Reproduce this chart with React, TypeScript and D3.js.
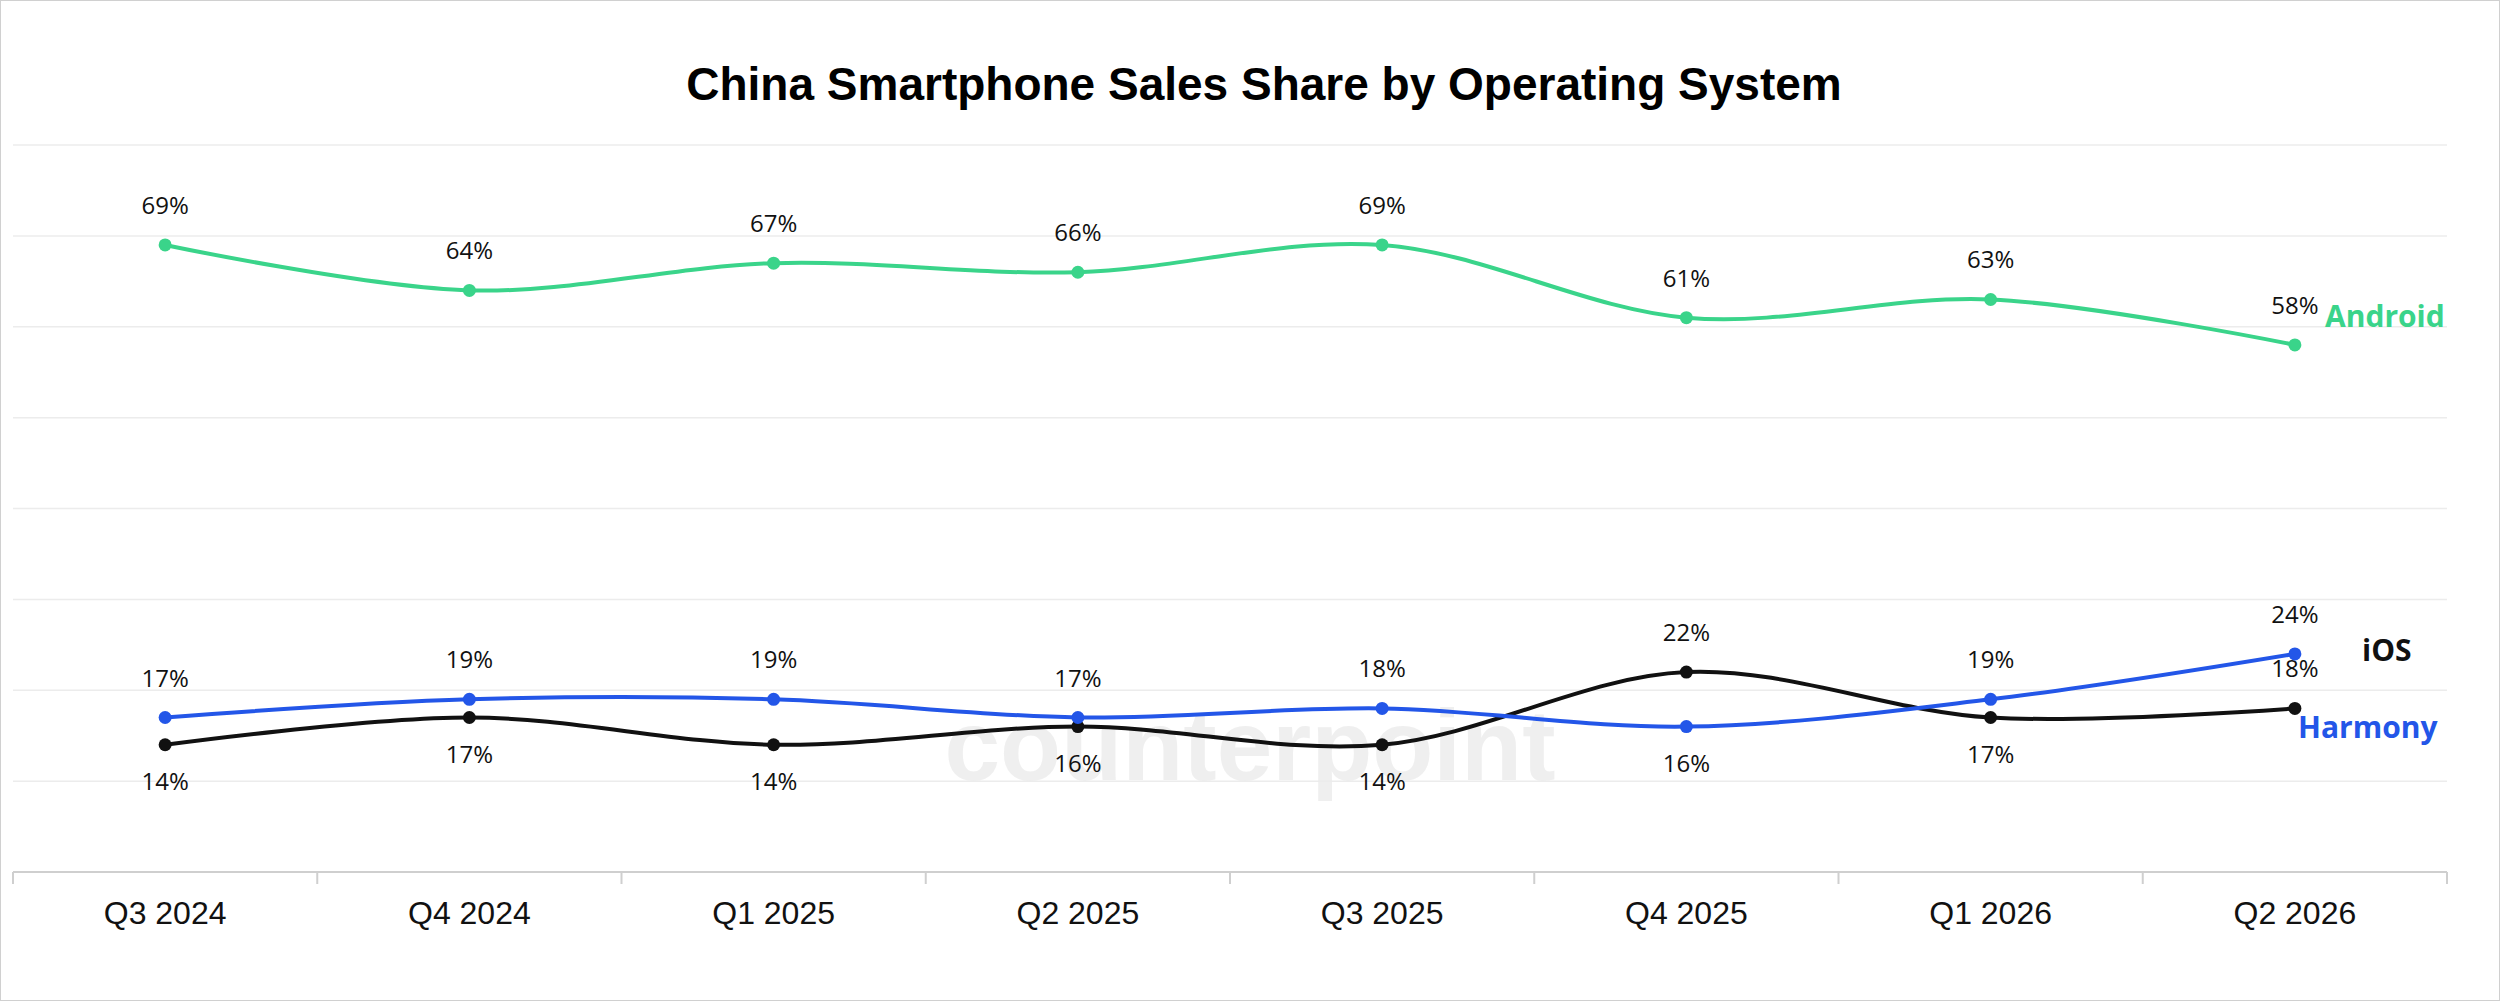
import React from "react";
import * as d3 from "d3";

const categories = ["Q3 2024","Q4 2024","Q1 2025","Q2 2025","Q3 2025","Q4 2025","Q1 2026","Q2 2026"];
const android = [69,64,67,66,69,61,63,58];
const harmonyBlue = [17,19,19,17,18,16,19,24];
const iosBlack = [14,17,14,16,14,22,17,18];
const blueLabelPos = ["above","above","above","above","above","below","above","above"];
const blackLabelPos = ["below","below","below","below","below","above","below","above"];
const yTicks = [0,10,20,30,40,50,60,70,80];

const W = 2500, H = 1001;
const GREEN = "#3ad48a", BLUE = "#2356e8", BLACK = "#111111";

export default function App() {
  const x = d3.scaleBand().domain(categories).range([13, 2447]);
  const cx = (c: string) => (x(c) as number) + x.bandwidth() / 2;
  const y = d3.scaleLinear().domain([0, 80]).range([872, 145]);
  const line = d3.line<number>().x((_, i) => cx(categories[i])).y(d => y(d)).curve(d3.curveCatmullRom.alpha(0.5));
  const series = [
    { vals: android, color: GREEN, pos: android.map(() => "above") },
    { vals: iosBlack, color: BLACK, pos: blackLabelPos },
    { vals: harmonyBlue, color: BLUE, pos: blueLabelPos },
  ];
  return (
    <svg width={W} height={H} style={{ position: "absolute", left: 0, top: 0, background: "#fff", fontFamily: "'Open Sans', 'Noto Sans', sans-serif" }}>
      <rect x={0.5} y={0.5} width={W - 1} height={H - 1} fill="none" stroke="#d0d0d0" />
      <text x={1264} y={100} textAnchor="middle" fontFamily="Liberation Sans, Arial, sans-serif" fontWeight="bold" fontSize={46} fill="#000">China Smartphone Sales Share by Operating System</text>
      {yTicks.slice(1).map(t => (
        <line key={t} x1={13} x2={2447} y1={y(t)} y2={y(t)} stroke="#ececec" strokeWidth={1.5} />
      ))}
      <line x1={13} x2={2447} y1={y(0)} y2={y(0)} stroke="#cfcfcf" strokeWidth={2} />
      {categories.map((c, i) => (
        <g key={c}>
          <line x1={x(c) as number} x2={x(c) as number} y1={y(0)} y2={y(0) + 12} stroke="#cfcfcf" strokeWidth={2} />
          <text x={cx(c)} y={924} textAnchor="middle" fontFamily="Liberation Sans, Arial, sans-serif" fontSize={32} fill="#111">{c}</text>
        </g>
      ))}
      <line x1={2447} x2={2447} y1={y(0)} y2={y(0) + 12} stroke="#cfcfcf" strokeWidth={2} />
      <text x={1250} y={780} textAnchor="middle" fontFamily="Liberation Sans, Arial, sans-serif" fontWeight="bold" fontSize={100} fill="#ececec" opacity={0.8}>counterpoint</text>
      {series.map((s, si) => (
        <g key={si}>
          <path d={line(s.vals) || ""} fill="none" stroke={s.color} strokeWidth={4} />
          {s.vals.map((v, i) => (
            <g key={i}>
              <circle cx={cx(categories[i])} cy={y(v)} r={6.5} fill={s.color} />
              <text x={cx(categories[i])} y={y(v) + (s.pos[i] === "above" ? -31 : 45)} textAnchor="middle" fontSize={24} fill="#111">{v}%</text>
            </g>
          ))}
        </g>
      ))}
      <text x={2325} y={327} fontWeight="bold" fontSize={30} fill={GREEN}>Android</text>
      <text x={2362} y={661} fontWeight="bold" fontSize={30} fill={BLACK}>iOS</text>
      <text x={2298} y={738} fontWeight="bold" fontSize={30} fill={BLUE}>Harmony</text>
    </svg>
  );
}
